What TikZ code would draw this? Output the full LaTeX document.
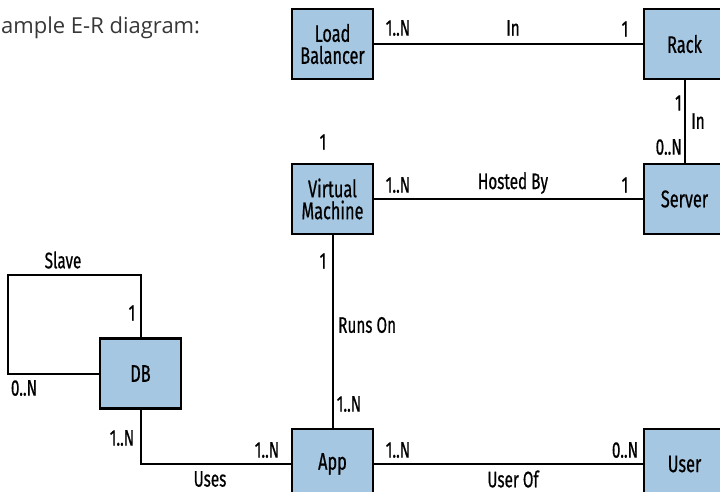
\documentclass[tikz,border=0pt]{standalone}
\usepackage{fontspec}
\setmainfont{Open Sans}
\newfontfamily\erfont[FakeStretch=0.68, FakeBold=0.6]{Fira Sans}
\definecolor{entityblue}{RGB}{166, 199, 226}
\definecolor{titlegray}{RGB}{55, 55, 55}
\usetikzlibrary{positioning, calc}

\begin{document}
\begin{tikzpicture}[x=1pt, y=-1pt,
  entity/.style={draw=black, line width=2.8pt, fill=entityblue, minimum width=81pt, minimum height=70pt, align=center, inner sep=2pt, font=\erfont\fontsize{24}{22}\selectfont},
  card/.style={inner sep=0pt, font=\erfont\fontsize{22.5}{22}\selectfont},
  rel/.style={line width=2pt}]
  \useasboundingbox (0,0) rectangle (720,492);

  % title
  \node[anchor=west, inner sep=0pt, text=titlegray, font=\fontsize{22}{22}\selectfont] (title) at (1, 28) {ample E-R diagram:};

  % entities
  \node[entity] (lb) at (332.5, 44) {Load\\Balancer};
  \node[entity] (rack) at (684.5, 44) {Rack};
  \node[entity] (vm) at (332.5, 199) {Virtual\\Machine};
  \node[entity] (server) at (684.5, 199) {Server};
  \node[entity] (db) at (140.5, 373.5) {DB};
  \node[entity] (app) at (332.5, 464) {App};
  \node[entity] (user) at (684.5, 464) {User};

  % relations
  \coordinate (slavecorner) at (8, 275);
  \draw[rel] (lb) -- (rack);
  \draw[rel] (rack) -- (server);
  \draw[rel] (vm) -- (server);
  \draw[rel] (vm) -- (app);
  \draw[rel] (app) -- (user);
  \draw[rel] (db.south) |- (app.west);
  \draw[rel] (db.north) |- (slavecorner) |- (db.west);

  % load balancer - rack
  \node[card] (lbcard) at (398, 28) {1..N};
  \node[card] (lbin) at (513, 28) {In};
  \node[card] (rackcard) at (625, 29) {1};
  % rack - server
  \node[card, anchor=east] (rackcard2) at (682, 103) {1};
  \node[card] (serverin) at (698, 121) {In};
  \node[card, anchor=east] (servercard) at (682, 147) {0..N};
  % vm - server
  \node[card] (vmone) at (323, 142) {1};
  \node[card] (vmcard) at (398, 185) {1..N};
  \node[card] (hosted) at (513, 183) {Hosted By};
  \node[card] (servercard2) at (625, 185) {1};
  % vm - app
  \node[card] (vmcard2) at (323, 261) {1};
  \node[card, anchor=west] (runs) at (338, 325) {Runs On};
  \node[card] (appcard) at (349, 404) {1..N};
  % app - user
  \node[card] (appcard2) at (398, 450) {1..N};
  \node[card] (usercard) at (625, 450) {0..N};
  \node[card] (userof) at (513, 479) {User Of};
  % db
  \node[card] (slave) at (63, 260) {Slave};
  \node[card] (dbone) at (132, 313) {1};
  \node[card] (dbmany) at (24, 388) {0..N};
  \node[card] (dbcard) at (122, 438) {1..N};
  \node[card] (appcard3) at (267, 450) {1..N};
  \node[card] (uses) at (210, 479) {Uses};
\end{tikzpicture}
\end{document}
